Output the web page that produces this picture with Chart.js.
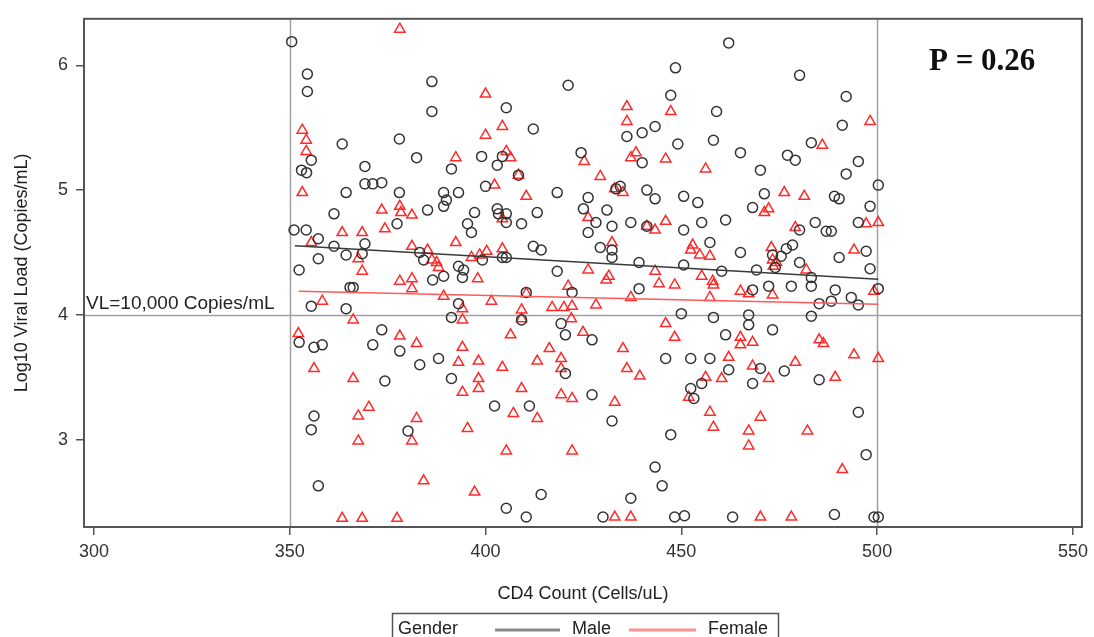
<!DOCTYPE html>
<html>
<head>
<meta charset="utf-8">
<script src="https://cdn.jsdelivr.net/npm/chart.js@4.4.1/dist/chart.umd.min.js"></script>
<style>
  html, body { margin: 0; padding: 0; background: #fff; }
  canvas { display: block; }
</style>
</head>
<body>
<canvas id="chart" width="1094" height="637"></canvas>
<script>
// axis ticks and reference values
const xTicks = [300, 350, 400, 450, 500, 550];
const yTicks = [3, 4, 5, 6];
const refCD4 = [350, 500];
const refVL = 4;
const vlLabel = "VL=10,000 Copies/mL";
const pLabel = "P = 0.26";
const legendTitle = "Gender";
const groups = ["Male", "Female"];

// [CD4 count, log10 viral load]
const malePoints = [
  [350.5,6.19],[354.5,5.93],[354.5,5.79],[363.4,5.37],[378,5.41],[386.3,5.87],[386.3,5.63],[382.4,5.26],[399,5.27],[400,5.03],
  [391.3,5.17],[355.5,5.24],[353,5.16],[354.3,5.14],[369.2,5.19],[369.2,5.05],[371.2,5.05],[373.5,5.06],[364.4,4.98],[378,4.98],
  [389.3,4.98],[393.1,4.98],[390,4.92],[389.3,4.87],[385.2,4.84],[397.2,4.82],[361.3,4.81],[377.4,4.73],[395.4,4.73],[396.4,4.66],
  [351.1,4.68],[354.2,4.68],[357.3,4.61],[361.3,4.55],[369.2,4.57],[364.4,4.48],[368.5,4.49],[357.3,4.45],[383.2,4.5],[384.2,4.44],
  [393.1,4.39],[394.4,4.36],[352.4,4.36],[386.5,4.28],[389.3,4.31],[394.1,4.3],[403,4.85],[403.3,4.81],[405.3,4.81],[405.3,4.74],
  [409.2,4.73],[413.2,4.82],[425,4.85],[412.2,4.55],[414.2,4.52],[404.3,4.46],[405.3,4.46],[399.2,4.44],[418.3,4.35],[365.4,4.22],
  [366.2,4.22],[410.4,4.18],[422.1,4.18],[355.5,4.07],[364.4,4.05],[393.1,4.09],[391.3,3.98],[409.2,3.96],[419.3,3.93],[373.5,3.88],
  [352.4,3.78],[356.2,3.74],[358.3,3.76],[371.2,3.76],[378.1,3.71],[383.2,3.6],[388,3.65],[391.3,3.49],[374.3,3.47],[356.2,3.19],
  [355.5,3.08],[380.2,3.07],[357.3,2.63],
  [448.5,5.98],[421.1,5.84],[447.3,5.76],[405.3,5.66],[412.2,5.49],[443.3,5.51],[440,5.46],[436.1,5.43],[449.1,5.37],[424.4,5.3],
  [404.3,5.27],[403,5.2],[440,5.22],[408.4,5.12],[418.3,4.98],[434.4,5.03],[433.3,5.01],[441.2,5],[443.3,4.93],[450.6,4.95],
  [426.2,4.94],[431,4.84],[428.2,4.74],[432.3,4.71],[437.1,4.74],[441.2,4.71],[450.6,4.68],[426.2,4.66],[429.3,4.54],[432.3,4.52],
  [432.3,4.46],[439.2,4.42],[450.6,4.4],
  [450,4.01],[420.4,3.84],[427.2,3.8],[446,3.65],[420.4,3.53],[427.2,3.36],[402.3,3.27],[411.2,3.27],[432.3,3.15],[447.3,3.04],
  [443.3,2.78],[445.1,2.63],[414.2,2.56],[437.1,2.53],[405.3,2.45],[410.4,2.38],[430,2.38],[448.3,2.38],[450.8,2.39],[439.2,4.21],
  [462.1,6.18],[480.2,5.92],[492.1,5.75],[459,5.63],[491.1,5.52],[458.2,5.4],[483.2,5.38],[465.1,5.3],[477.1,5.28],[479.1,5.24],
  [495.2,5.23],[470.2,5.16],[492.1,5.13],[500.3,5.04],[454.2,4.9],[471.2,4.97],[489.1,4.95],[490.3,4.93],[498.2,4.87],[468.2,4.86],
  [461.3,4.76],[455.2,4.74],[484.2,4.74],[495.2,4.74],[487,4.67],[488.3,4.67],[480.2,4.68],[457.3,4.58],[478.4,4.56],[476.8,4.53],
  [473.3,4.48],[475.5,4.47],[465.1,4.5],[497.2,4.51],[490.3,4.46],[460.3,4.35],[469.2,4.36],[474,4.38],[480.2,4.42],[498.2,4.37],
  [483.2,4.3],[468.2,4.2],[472.3,4.23],[478.1,4.23],[483.2,4.23],[489.3,4.2],[500.3,4.21],[485.2,4.09],[488.3,4.11],[493.4,4.14],
  [495.2,4.08],[458.2,3.98],[467.2,4],[467.2,3.92],[483.2,3.99],[461.3,3.84],[473.3,3.88],[452.4,3.65],[457.3,3.65],[462.1,3.56],
  [470.2,3.57],[476.3,3.55],[468.2,3.45],[455.2,3.45],[452.4,3.41],[453.2,3.33],[485.2,3.48],[495.2,3.22],[497.2,2.88],[463.1,2.38],
  [489.1,2.4],[499.2,2.38],[500.3,2.38]
];

const femalePoints = [
  [378.1,6.29],[353.2,5.48],[354.2,5.4],[354.2,5.31],[353.2,4.98],[400,5.77],[400,5.44],[392.4,5.26],[373.5,4.84],[378.1,4.87],
  [378.4,4.82],[381.2,4.8],[374.3,4.69],[363.4,4.66],[368.5,4.66],[355.5,4.58],[381.2,4.55],[392.4,4.58],[367.5,4.45],[368.5,4.35],
  [385.2,4.52],[386.3,4.44],[388,4.38],[396.4,4.46],[398.5,4.48],[378.1,4.27],[381.2,4.29],[398,4.29],[400.3,4.51],[404.3,4.53],
  [381.2,4.21],[389.3,4.15],[401.5,4.11],[410.4,4.17],[421.1,4.23],[358.3,4.11],[366.2,3.96],[394.1,4.05],[394.1,3.96],[409.2,4.04],
  [409.2,3.97],[417,4.06],[420,4.06],[422.1,4.07],[421.9,3.97],[352.2,3.85],[378.1,3.83],[382.4,3.77],[394.1,3.74],[393.1,3.62],
  [398.2,3.63],[356.2,3.57],[366.2,3.49],[398.2,3.49],[398.2,3.41],[394.1,3.38],[370.2,3.26],[367.5,3.19],[382.4,3.17],[395.4,3.09],
  [367.5,2.99],[381.2,2.99],[384.2,2.67],[397.2,2.58],[363.4,2.37],[368.5,2.37],[377.4,2.37],[387.5,4.42],
  [404.3,5.51],[405.3,5.31],[406.4,5.26],[408.4,5.12],[402.3,5.04],[410.4,4.95],[425.2,5.23],[429.3,5.11],[433,5.01],[435.1,4.98],
  [436.1,5.67],[436.1,5.55],[438.4,5.3],[437.1,5.26],[447.3,5.63],[446,5.25],[426.2,4.78],[404.3,4.77],[441.2,4.71],[443.3,4.68],
  [446,4.75],[432.3,4.58],[426.2,4.36],[443.3,4.35],[430.8,4.28],[431.5,4.31],
  [428.2,4.08],[437.1,4.14],[444.3,4.25],[448.3,4.24],[406.4,3.84],[416.3,3.73],[419.3,3.65],[419.3,3.57],[413.2,3.63],[404.3,3.58],
  [424.9,3.86],[435.1,3.73],[436.1,3.57],[439.4,3.51],[409.2,3.41],[419.3,3.36],[422.1,3.33],[433,3.3],[407.1,3.21],[413.2,3.17],
  [405.3,2.91],[422.1,2.91],[433,2.38],[437.1,2.38],[446,3.93],[448.3,3.82],
  [498.2,5.55],[486,5.36],[456.2,5.17],[476.3,4.98],[481.4,4.95],[472.3,4.85],[471.2,4.82],[479.1,4.7],[497.2,4.73],[500.3,4.74],
  [452.9,4.56],[452.4,4.52],[454.7,4.48],[457.3,4.47],[473,4.54],[473.3,4.44],[474.3,4.42],[494.1,4.52],[481.9,4.36],[455.2,4.31],
  [458,4.27],[473.5,4.39],
  [458.2,4.24],[465.1,4.19],[467.2,4.17],[473.3,4.16],[457.3,4.14],[499.2,4.19],[465.1,3.82],[465.1,3.76],[468.2,3.78],[485.2,3.8],
  [486.3,3.77],[462.1,3.66],[468.2,3.59],[479.1,3.62],[494.1,3.68],[500.3,3.65],[456.2,3.5],[460.3,3.49],[472.3,3.49],[489.3,3.5],
  [451.9,3.34],[457.3,3.22],[458.2,3.1],[470.2,3.18],[467.2,3.07],[467.2,2.95],[482.2,3.07],[491.1,2.76],[470.2,2.38],[478.1,2.38]
];

// fitted lines, end points
const maleFit = [[351.3, 4.555], [500.3, 4.285]];
const femaleFit = [[352.3, 4.19], [500.3, 4.085]];

const FONT = "'Liberation Sans', Arial, sans-serif";
const toXY = arr => arr.map(p => ({ x: p[0], y: p[1] }));

const decor = {
    id: "decor",
    beforeDatasetsDraw(chart) {
        const { ctx, chartArea: a, scales: { x, y } } = chart;
        ctx.save();
        ctx.strokeStyle = "#a0a0a0";
        ctx.lineWidth = 1.5;
        ctx.beginPath();
        for (const v of refCD4) {
            const px = Math.round(x.getPixelForValue(v)) + 0.5;
            ctx.moveTo(px, a.top);
            ctx.lineTo(px, a.bottom);
        }
        const py = Math.round(y.getPixelForValue(refVL)) + 0.5;
        ctx.moveTo(a.left, py);
        ctx.lineTo(a.right, py);
        ctx.stroke();

        ctx.fillStyle = "#222";
        ctx.font = "19px " + FONT;
        ctx.textBaseline = "alphabetic";
        ctx.fillText(vlLabel, a.left + 2, py - 7);
        ctx.restore();
    },
    afterDraw(chart) {
        const { ctx, chartArea: a } = chart;
        ctx.save();
        ctx.strokeStyle = "#555";
        ctx.lineWidth = 2;
        ctx.strokeRect(a.left, a.top, a.right - a.left, a.bottom - a.top);

        ctx.fillStyle = "#111";
        ctx.font = "bold 31px 'Liberation Serif', 'Times New Roman', serif";
        ctx.textBaseline = "middle";
        ctx.fillText(pLabel, 929, 62);

        // legend box
        ctx.strokeStyle = "#555";
        ctx.lineWidth = 1.5;
        ctx.strokeRect(392.5, 613.5, 386, 40);
        ctx.font = "18px " + FONT;
        ctx.fillStyle = "#222";
        ctx.fillText(legendTitle, 398, 629);
        ctx.lineWidth = 3;
        ctx.strokeStyle = "#8a8a8a";
        ctx.beginPath(); ctx.moveTo(495, 630); ctx.lineTo(560, 630); ctx.stroke();
        ctx.fillText(groups[0], 572, 629);
        ctx.strokeStyle = "#ff9191";
        ctx.beginPath(); ctx.moveTo(629, 630); ctx.lineTo(696, 630); ctx.stroke();
        ctx.fillText(groups[1], 708, 629);
        ctx.restore();
    }
};

new Chart(document.getElementById("chart"), {
    type: "scatter",
    data: {
        datasets: [
            {
                label: groups[0],
                data: toXY(malePoints),
                pointStyle: "circle",
                pointRadius: 5,
                pointBorderWidth: 1.5,
                borderColor: "#333",
                backgroundColor: "rgba(0,0,0,0)",
                order: 2
            },
            {
                label: groups[1],
                data: toXY(femalePoints),
                pointStyle: "triangle",
                pointRadius: 6,
                pointBorderWidth: 1.5,
                borderColor: "#ff2b2b",
                backgroundColor: "rgba(0,0,0,0)",
                order: 3
            },
            {
                label: "Male fit",
                data: toXY(maleFit),
                showLine: true,
                pointRadius: 0,
                borderColor: "#3a3a3a",
                borderWidth: 1.5,
                order: 1
            },
            {
                label: "Female fit",
                data: toXY(femaleFit),
                showLine: true,
                pointRadius: 0,
                borderColor: "#ff5a5a",
                borderWidth: 1.5,
                order: 1
            }
        ]
    },
    options: {
        responsive: false,
        animation: false,
        devicePixelRatio: 1,
        layout: { padding: { top: 14, right: 7, left: 0, bottom: 0 } },
        plugins: {
            legend: { display: false },
            tooltip: { enabled: false }
        },
        scales: {
            x: {
                type: "linear",
                min: 297.46,
                max: 552.3,
                afterBuildTicks: axis => { axis.ticks = xTicks.map(v => ({ value: v })); },
                afterFit: axis => { axis.height = 110; },
                grid: { drawOnChartArea: false, drawTicks: true, tickLength: 8, color: "#555", lineWidth: 1.5 },
                border: { display: false },
                ticks: { color: "#333", padding: 6, font: { family: FONT, size: 18 }, maxRotation: 0 },
                title: {
                    display: true,
                    text: "CD4 Count (Cells/uL)",
                    color: "#222",
                    font: { family: FONT, size: 18 },
                    padding: { top: 0, bottom: 32 }
                }
            },
            y: {
                min: 2.30,
                max: 6.373,
                afterBuildTicks: axis => { axis.ticks = yTicks.map(v => ({ value: v })); },
                afterFit: axis => { axis.width = 84; },
                grid: { drawOnChartArea: false, drawTicks: true, tickLength: 8, color: "#555", lineWidth: 1.5 },
                border: { display: false },
                ticks: { color: "#333", padding: 8, font: { family: FONT, size: 18 } },
                title: {
                    display: true,
                    text: "Log10 Viral Load (Copies/mL)",
                    color: "#222",
                    font: { family: FONT, size: 18 },
                    padding: { top: 11, bottom: 0 }
                }
            }
        }
    },
    plugins: [decor]
});
</script>
</body>
</html>
